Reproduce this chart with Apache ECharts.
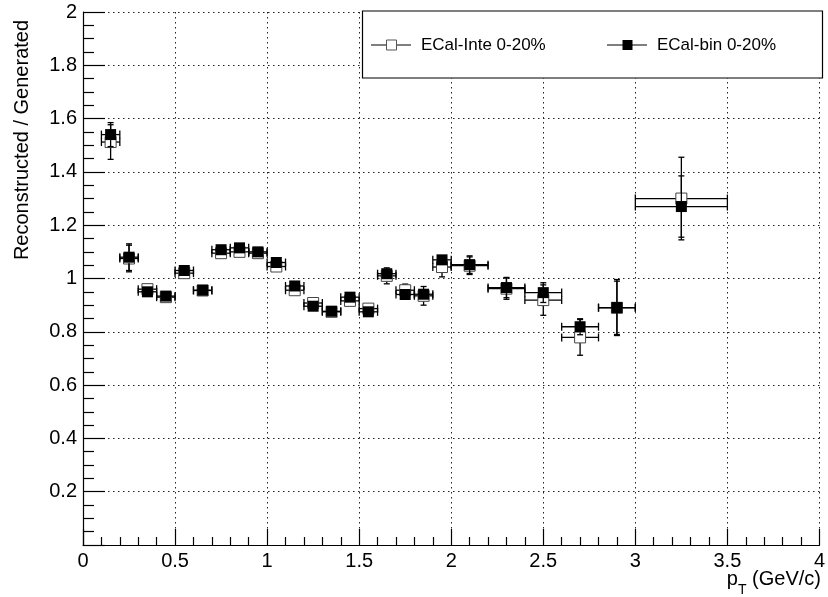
<!DOCTYPE html>
<html>
<head>
<meta charset="utf-8">
<script src="https://cdn.jsdelivr.net/npm/echarts@6/dist/echarts.min.js"></script>
<style>
  html, body { margin: 0; padding: 0; background: #fff; }
  #chart { width: 828px; height: 597px; }
</style>
</head>
<body>
<div id="chart"></div>
<script>
// pT bin centres and half-widths (GeV/c)
const ptCenters = [0.15, 0.25, 0.35, 0.45, 0.55, 0.65, 0.75, 0.85, 0.95, 1.05,
                   1.15, 1.25, 1.35, 1.45, 1.55, 1.65, 1.75, 1.85, 1.95, 2.1,
                   2.3, 2.5, 2.7, 2.9, 3.25];
const binHalfWidths = [0.05, 0.05, 0.05, 0.05, 0.05, 0.05, 0.05, 0.05, 0.05, 0.05,
                       0.05, 0.05, 0.05, 0.05, 0.05, 0.05, 0.05, 0.05, 0.05, 0.1,
                       0.1, 0.1, 0.1, 0.1, 0.25];

// ECal-Inte 0-20%
const inteValues = [1.512, 1.075, 0.96, 0.93, 1.02, 0.955, 1.095, 1.10, 1.095, 1.045,
                    0.956, 0.908, 0.875, 0.916, 0.887, 1.01, 0.956, 0.935, 1.043, 1.048,
                    0.962, 0.919, 0.779, 0.89, 1.30];
const inteErrors = [0.065, 0.05, 0.02, 0.012, 0.015, 0.012, 0.015, 0.015, 0.015, 0.015,
                    0.02, 0.012, 0.012, 0.02, 0.013, 0.03, 0.023, 0.035, 0.037, 0.033,
                    0.04, 0.057, 0.067, 0.1, 0.155];

// ECal-bin 0-20%
const binValues = [1.54, 1.08, 0.95, 0.934, 1.03, 0.956, 1.108, 1.115, 1.10, 1.06,
                   0.972, 0.896, 0.877, 0.93, 0.875, 1.018, 0.94, 0.941, 1.07, 1.052,
                   0.966, 0.947, 0.819, 0.891, 1.27];
const binErrors = [0.045, 0.05, 0.015, 0.012, 0.015, 0.012, 0.015, 0.015, 0.015, 0.015,
                   0.02, 0.015, 0.012, 0.02, 0.015, 0.02, 0.02, 0.02, 0.02, 0.033,
                   0.038, 0.037, 0.03, 0.105, 0.115];

const seriesNames = ['ECal-Inte 0-20%', 'ECal-bin 0-20%'];
const yTitle = 'Reconstructed / Generated';

const FONT = '"Liberation Sans", Arial, Helvetica, sans-serif';

function rows(values, errors) {
  return ptCenters.map((x, i) => [x, values[i], errors[i], binHalfWidths[i]]);
}

// Error-bar marker: bin-width bar + vertical error with caps, then a square marker
function makeRenderer(filled) {
  return function (params, api) {
    const x = api.value(0), y = api.value(1), e = api.value(2), w = api.value(3);
    const c = api.coord([x, y]);
    const l = api.coord([x - w, y]);
    const r = api.coord([x + w, y]);
    const t = api.coord([x, y + e]);
    const b = api.coord([x, y - e]);
    const half = 5.5, cap = 4;
    const st = { stroke: '#000', lineWidth: 1.3 };
    const kids = [];
    const line = (x1, y1, x2, y2) => kids.push({ type: 'line', shape: { x1, y1, x2, y2 }, style: st });
    line(l[0], c[1], r[0], c[1]);
    line(l[0], c[1] - cap, l[0], c[1] + cap);
    line(r[0], c[1] - cap, r[0], c[1] + cap);
    if (t[1] < c[1] - half) {
      line(c[0], t[1], c[0], c[1] - half);
      line(c[0] - cap + 1, t[1], c[0] + cap - 1, t[1]);
    }
    if (b[1] > c[1] + half) {
      line(c[0], c[1] + half, c[0], b[1]);
      line(c[0] - cap + 1, b[1], c[0] + cap - 1, b[1]);
    }
    kids.push({
      type: 'rect',
      shape: { x: c[0] - half, y: c[1] - half, width: 2 * half, height: 2 * half },
      style: filled ? { fill: '#000' } : { fill: '#fff', stroke: '#444', lineWidth: 1 }
    });
    return { type: 'group', children: kids };
  };
}

const chart = echarts.init(document.getElementById('chart'), null, { renderer: 'canvas' });

const gridLine = { show: true, lineStyle: { color: '#222', width: 1, type: [1.5, 3.5] } };

chart.setOption({
  animation: false,
  backgroundColor: '#fff',
  grid: { left: 83, right: 5, top: 12, bottom: 52, containLabel: false },
  xAxis: {
    type: 'value', min: 0, max: 4, interval: 0.5,
    axisLine: { show: true, onZero: false, lineStyle: { color: '#000', width: 1.2 } },
    axisTick: { show: true, inside: true, length: 16, lineStyle: { color: '#000', width: 1.2 } },
    minorTick: { show: true, splitNumber: 5, length: 8, lineStyle: { color: '#000', width: 1.2 } },
    splitLine: gridLine,
    axisLabel: { color: '#000', fontSize: 20, fontFamily: FONT, margin: 6, showMaxLabel: true, showMinLabel: true }
  },
  yAxis: {
    type: 'value', min: 0, max: 2, interval: 0.2,
    axisLine: { show: true, onZero: false, lineStyle: { color: '#000', width: 1.2 } },
    axisTick: { show: true, inside: true, length: 22, lineStyle: { color: '#000', width: 1.2 } },
    minorTick: { show: true, splitNumber: 4, length: 11, lineStyle: { color: '#000', width: 1.2 } },
    splitLine: gridLine,
    axisLabel: {
      color: '#000', fontSize: 20, fontFamily: FONT, margin: 6,
      formatter: v => (Math.abs(v) < 1e-9 ? '' : String(+v.toFixed(1)))
    }
  },
  series: [
    {
      name: seriesNames[0], type: 'custom', renderItem: makeRenderer(false),
      encode: { x: 0, y: 1 }, data: rows(inteValues, inteErrors), z: 3
    },
    {
      name: seriesNames[1], type: 'custom', renderItem: makeRenderer(true),
      encode: { x: 0, y: 1 }, data: rows(binValues, binErrors), z: 4
    }
  ],
  graphic: [
    // y-axis title
    {
      type: 'text', x: 22, y: 140, rotation: Math.PI / 2,
      style: { text: yTitle, fill: '#000', font: '20px ' + FONT, align: 'center', verticalAlign: 'middle' }
    },
    // x-axis title with subscript
    {
      type: 'text', right: 7, top: 569,
      style: {
        text: '{a|p}{s|T}{a| (GeV/c)}',
        rich: {
          a: { fontSize: 20, fontFamily: FONT, fill: '#000', verticalAlign: 'top' },
          s: { fontSize: 14, fontFamily: FONT, fill: '#000', padding: [14, 0, 0, 0] }
        }
      }
    },
    // legend box and entries
    {
      type: 'rect', z: 10,
      shape: { x: 362.5, y: 11, width: 460, height: 67 },
      style: { fill: '#fff', stroke: '#000', lineWidth: 1.2 }
    },
    { type: 'line', z: 11, shape: { x1: 371, y1: 45, x2: 411, y2: 45 }, style: { stroke: '#000', lineWidth: 1.2 } },
    { type: 'rect', z: 12, shape: { x: 386.5, y: 40, width: 10, height: 10 }, style: { fill: '#fff', stroke: '#555', lineWidth: 1 } },
    { type: 'text', z: 12, x: 421, y: 45, style: { text: seriesNames[0], fill: '#000', font: '17px ' + FONT, verticalAlign: 'middle' } },
    { type: 'line', z: 11, shape: { x1: 607, y1: 45, x2: 647, y2: 45 }, style: { stroke: '#000', lineWidth: 1.2 } },
    { type: 'rect', z: 12, shape: { x: 622.5, y: 40, width: 10, height: 10 }, style: { fill: '#000' } },
    { type: 'text', z: 12, x: 657, y: 45, style: { text: seriesNames[1], fill: '#000', font: '17px ' + FONT, verticalAlign: 'middle' } }
  ]
});
</script>
</body>
</html>
